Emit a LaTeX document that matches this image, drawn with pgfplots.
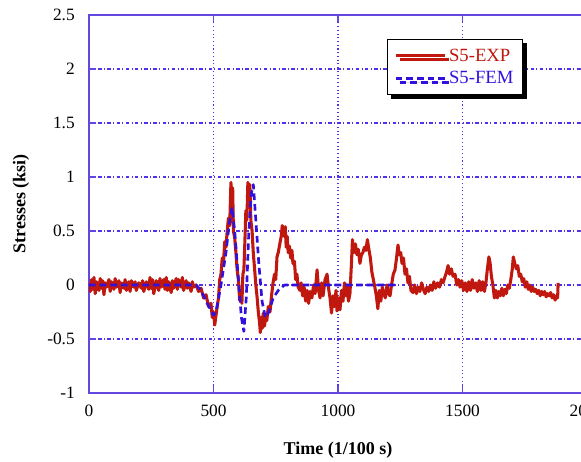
\documentclass[border=0pt]{standalone}
\usepackage{fontspec}
\setmainfont{Liberation Serif}
\usepackage{pgfplots}
\pgfplotsset{compat=1.18}
\usetikzlibrary{shadows}
\definecolor{axviolet}{HTML}{6446E1}
\definecolor{gridviolet}{HTML}{5230EC}
\definecolor{expred}{HTML}{C0180E}
\definecolor{femblue}{HTML}{3311DD}

\begin{document}
\begin{tikzpicture}
\begin{axis}[
  name=ax, at={(0,0)}, anchor=south west,
  scale only axis, width=373.5pt, height=283.5pt,
  xmin=0, xmax=2000, ymin=-1, ymax=2.5,
  xtick={0,500,1000,1500,2000}, xticklabels={0,500,1000,1500,2000},
  ytick={-1,-0.5,0,0.5,1,1.5,2,2.5},
  yticklabels={-1,-0.5,0,0.5,1,1.5,2,2.5},
  tick label style={font=\fontsize{13}{15}\selectfont, inner sep=0pt},
  xticklabel style={yshift=-9pt},
  yticklabel style={xshift=-10.5pt},
  major tick length=5pt,
  tick style={axviolet, line width=0.9pt},
  axis line style={axviolet, line width=1.1pt},
  xmajorgrids, ymajorgrids,
  x grid style={gridviolet, line width=0.8pt, dash pattern=on 0.8pt off 2pt},
  y grid style={gridviolet, line width=0.8pt, dash pattern=on 2.5pt off 1.8pt on 0.8pt off 1.8pt},
  xlabel={\textbf{Time (1/100 s)}},
  ylabel={\textbf{Stresses (ksi)}},
  label style={font=\fontsize{13.5}{15}\selectfont},
  xlabel style={at={(axis description cs:0.5,-0.151)}, anchor=center},
  ylabel style={at={(axis description cs:-0.1365,0.5)}, anchor=center},
  legend style={at={(axis description cs:0.598,0.937)}, anchor=north west,
    draw=black, line width=0.8pt, fill=white,
    drop shadow={shadow xshift=3pt, shadow yshift=-3pt, opacity=1, fill=black},
    font=\fontsize{14}{16}\selectfont, inner xsep=5pt, inner ysep=5pt,
    row sep=2pt},
  legend cell align=left,
  legend image code/.code={\draw[#1] (0pt,0pt) -- (37pt,0pt);},
]
\addplot[expred, line width=2.3pt, line join=round] coordinates {
(0,0.02) (5,-0.06) (10,0.05) (15,-0.04) (20,0.07) (25,-0.08) (30,0.03) (40,-0.05)
(45,0.06) (50,-0.03) (55,0.04) (60,-0.09) (65,0.02) (70,-0.02) (80,0.05) (85,-0.06)
(90,0.03) (100,-0.04) (105,0.06) (110,-0.02) (120,0.04) (125,-0.07) (130,0.02)
(140,-0.03) (145,0.05) (150,-0.05) (160,0.03) (165,-0.06) (170,0.04) (180,-0.02)
(185,0.03) (190,-0.05) (200,0.02) (210,-0.03) (215,0.04) (220,-0.06) (230,0.03)
(240,-0.04) (245,0.07) (250,-0.03) (255,0.05) (260,-0.08) (270,0.04) (280,-0.05)
(285,0.06) (290,-0.02) (300,0.05) (305,-0.04) (310,0.07) (315,-0.05) (320,0.03)
(330,-0.07) (335,0.04) (340,-0.03) (350,0.06) (355,-0.04) (360,0.05) (370,-0.02)
(375,0.07) (380,-0.05) (390,0.04) (395,-0.03) (400,0.02) (410,-0.06) (415,0.03)
(420,-0.02) (430,0.00) (440,-0.06) (450,-0.03) (460,-0.12) (470,-0.09) (480,-0.2)
(490,-0.17) (495,-0.3) (500,-0.25) (505,-0.37) (510,-0.28) (520,-0.12) (525,0.05)
(530,0.1) (535,0.25) (540,0.2) (545,0.4) (550,0.35) (555,0.5) (560,0.62) (565,0.55)
(570,0.95) (573,0.75) (577,0.9) (580,0.5) (585,0.44) (590,0.3) (595,0.14) (600,0.05)
(605,-0.14) (610,-0.05) (614,-0.17) (618,0.1) (622,0.14) (626,0.4) (630,0.69)
(634,0.6) (638,0.95) (642,0.85) (646,0.93) (650,0.6) (655,0.5) (660,0.29) (665,0.15)
(670,0.0) (675,-0.11) (680,-0.25) (685,-0.35) (688,-0.44) (692,-0.3) (696,-0.4)
(700,-0.26) (705,-0.38) (710,-0.28) (714,-0.33) (720,-0.2) (727,-0.25) (733,-0.1)
(739,0.02) (745,0.1) (750,0.05) (755,0.26) (760,0.3) (767,0.39) (772,0.45) (776,0.55)
(780,0.5) (784,0.45) (788,0.54) (792,0.35) (796,0.45) (800,0.3) (805,0.36) (810,0.25)
(815,0.32) (819,0.2) (825,0.22) (830,0.05) (835,0.1) (840,-0.02) (847,-0.05)
(852,0.02) (858,-0.1) (864,-0.02) (870,-0.15) (876,-0.05) (882,-0.17) (888,-0.06)
(895,-0.12) (902,0.0) (908,-0.08) (916,0.14) (922,-0.05) (928,-0.12) (934,0.02)
(940,-0.1) (948,0.05) (956,0.1) (962,-0.03) (968,-0.12) (974,-0.26) (980,-0.1)
(986,-0.2) (992,-0.05) (996,-0.24) (1002,-0.12) (1008,-0.23) (1014,-0.05) (1020,-0.15)
(1026,0.02) (1032,-0.1) (1036,0.0) (1042,-0.15) (1048,-0.08) (1054,0.2) (1058,0.42)
(1064,0.3) (1070,0.38) (1076,0.28) (1082,0.33) (1088,0.2) (1094,0.28) (1100,0.3)
(1106,0.35) (1112,0.32) (1118,0.42) (1124,0.33) (1130,0.25) (1136,0.12) (1142,0.05)
(1148,-0.02) (1154,-0.1) (1160,-0.22) (1166,-0.05) (1172,-0.15) (1178,-0.02)
(1184,-0.08) (1190,-0.12) (1197,0.0) (1203,-0.08) (1209,-0.1) (1215,0.0) (1222,0.1)
(1229,0.14) (1235,0.25) (1241,0.37) (1246,0.28) (1252,0.3) (1257,0.2) (1263,0.25)
(1269,0.1) (1275,0.15) (1281,0.02) (1287,0.08) (1293,-0.05) (1301,-0.07) (1308,0.0)
(1315,-0.08) (1322,-0.02) (1329,-0.06) (1336,0.02) (1343,-0.04) (1350,-0.08)
(1357,-0.02) (1364,-0.06) (1371,0.0) (1378,-0.05) (1385,0.03) (1392,-0.03) (1400,0.02)
(1408,-0.02) (1415,0.05) (1422,0.02) (1430,0.08) (1436,0.12) (1442,0.18) (1448,0.1)
(1455,0.15) (1462,0.08) (1470,0.1) (1477,0.0) (1484,0.05) (1490,-0.02) (1497,0.04)
(1504,-0.05) (1511,0.02) (1518,-0.06) (1525,0.03) (1532,-0.05) (1539,0.05)
(1546,-0.03) (1553,0.02) (1560,-0.06) (1567,0.04) (1574,-0.05) (1581,0.03)
(1588,-0.06) (1594,0.02) (1600,0.15) (1606,0.26) (1611,0.2) (1616,0.08) (1622,0.0)
(1628,-0.12) (1634,-0.05) (1640,-0.12) (1646,-0.06) (1652,-0.1) (1658,-0.03)
(1664,-0.1) (1670,-0.04) (1676,-0.08) (1682,0.0) (1688,-0.03) (1694,0.05) (1700,0.15)
(1704,0.26) (1710,0.2) (1716,0.15) (1722,0.18) (1728,0.08) (1734,0.1) (1740,0.03)
(1746,0.06) (1752,-0.02) (1758,0.03) (1764,-0.04) (1770,0.0) (1776,-0.06)
(1782,-0.02) (1788,-0.06) (1794,-0.04) (1800,-0.08) (1806,-0.05) (1812,-0.1)
(1818,-0.06) (1824,-0.09) (1830,-0.06) (1836,-0.11) (1842,-0.08) (1848,-0.1)
(1854,-0.07) (1860,-0.12) (1866,-0.09) (1872,-0.14) (1878,-0.1) (1882,-0.12)
(1884,0.02)
};
\addlegendentry{\textcolor{expred}{S5-EXP}}
\addplot[femblue, line width=2pt, dash pattern=on 5pt off 3pt, line join=round] coordinates {
(0,0) (430,0) (450,-0.05) (475,-0.17) (500,-0.28) (510,-0.25) (530,0.0) (550,0.3)
(565,0.6) (575,0.72) (585,0.5) (600,0.05) (612,-0.3) (622,-0.43) (632,-0.1)
(642,0.5) (652,0.85) (660,0.93) (670,0.6) (682,0.2) (695,-0.15) (708,-0.3)
(720,-0.26) (740,-0.12) (760,-0.05) (785,0.0) (1230,0.0)
};
\addlegendentry{\textcolor{femblue}{S5-FEM}}
\end{axis}
\pgfresetboundingbox
\path[use as bounding box] ([xshift=-66.75pt,yshift=-51pt]ax.south west)
  rectangle ([xshift=369pt,yshift=294.75pt]ax.south west);
\end{tikzpicture}
\end{document}
